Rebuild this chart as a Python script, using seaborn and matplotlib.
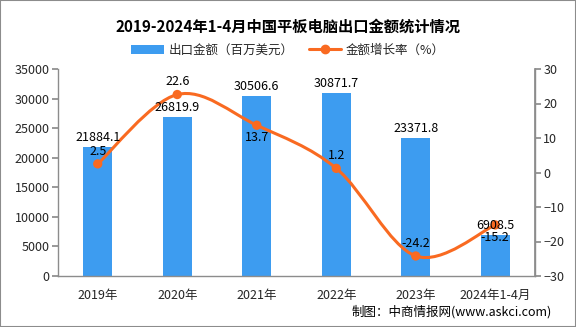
import numpy as np
import pandas as pd
import matplotlib
matplotlib.use("Agg")
import matplotlib.pyplot as plt
from matplotlib.path import Path
from matplotlib.patches import PathPatch, Patch, Rectangle
from matplotlib.lines import Line2D
import seaborn as sns

categories = ["2019年", "2020年", "2021年", "2022年", "2023年", "2024年1-4月"]
export_values = [21884.1, 26819.9, 30506.6, 30871.7, 23371.8, 6908.5]
growth_rates = [2.5, 22.6, 13.7, 1.2, -24.2, -15.2]
left_ticks = [0, 5000, 10000, 15000, 20000, 25000, 30000, 35000]
right_ticks = [-30, -20, -10, 0, 10, 20, 30]
growth_label_above = [True, True, False, True, True, False]

sns.set_theme(style="white")
plt.rcParams["font.family"] = ["Noto Sans CJK SC", "DejaVu Sans"]

BAR_C = "#3D9CF0"
LINE_C = "#F96A21"
AX_C = "#8C8C8C"

fig = plt.figure(figsize=(5.76, 3.27), dpi=100)
W, H = 576, 327
ax = fig.add_axes([58 / W, 1 - 276 / H, (535 - 58) / W, (276 - 69) / H])

df = pd.DataFrame({"cat": categories, "val": export_values})
sns.barplot(data=df, x="cat", y="val", color=BAR_C, width=0.37, ax=ax,
            saturation=1, edgecolor="none")
ax.set_xlim(-0.5, len(categories) - 0.5)
ax.set_ylim(0, 35000)
ax.set_yticks(left_ticks)
ax.set_yticklabels([str(t) for t in left_ticks], fontsize=9)
ax.set_xlabel("")
ax.set_ylabel("")
ax.set_xticks(np.arange(len(categories)))
ax.set_xticklabels(categories, fontsize=9)
ax.tick_params(axis="x", length=0, pad=9)
ax.set_xticks(np.arange(-0.5, len(categories), 1), minor=True)
ax.tick_params(axis="x", which="minor", length=5, color=AX_C, direction="out")
ax.tick_params(axis="y", length=4, color=AX_C, direction="out", pad=2, left=True)
ax.spines["top"].set_visible(False)
for s in ["left", "bottom", "right"]:
    ax.spines[s].set_color(AX_C)
    ax.spines[s].set_linewidth(1.0)
ax.grid(False)

ax2 = ax.twinx()
ax2.set_ylim(-30, 30)
ax2.set_yticks(right_ticks)
ax2.set_yticklabels([str(t).replace("-", "\u2212") for t in right_ticks], fontsize=9)
ax2.tick_params(axis="y", length=4, color=AX_C, direction="out", pad=2, right=True)
ax2.spines["top"].set_visible(False)
ax2.spines["left"].set_visible(False)
ax2.spines["bottom"].set_visible(False)
ax2.spines["right"].set_color(AX_C)
ax2.grid(False)

# smooth curve via Catmull-Rom -> cubic Bezier path
xs = np.arange(len(growth_rates), dtype=float)
ys = np.array(growth_rates, dtype=float)
pts = np.column_stack([xs, ys])
verts = [tuple(pts[0])]
codes = [Path.MOVETO]
n = len(pts)
for i in range(n - 1):
    p0 = pts[i - 1] if i > 0 else pts[i]
    p1 = pts[i]
    p2 = pts[i + 1]
    p3 = pts[i + 2] if i + 2 < n else pts[i + 1]
    c1 = p1 + (p2 - p0) / 6.0
    c2 = p2 - (p3 - p1) / 6.0
    verts += [tuple(c1), tuple(c2), tuple(p2)]
    codes += [Path.CURVE4, Path.CURVE4, Path.CURVE4]
ax2.add_patch(PathPatch(Path(verts, codes), facecolor="none", edgecolor=LINE_C, lw=2.2, zorder=3))
sns.scatterplot(x=xs, y=ys, color=LINE_C, s=45, edgecolor="none", ax=ax2, zorder=4)

# bar value labels drawn on top of the line (in ax's data coordinates)
for i, v in enumerate(export_values):
    ax2.text(i, v + 500, f"{v:.1f}", ha="center", va="bottom", fontsize=9,
             color="black", transform=ax.transData, zorder=6)

for i, g in enumerate(growth_rates):
    if growth_label_above[i]:
        ax2.text(i, g + 1.8, f"{g:.1f}", ha="center", va="bottom", fontsize=9, color="black", zorder=6)
    else:
        ax2.text(i, g - 1.8, f"{g:.1f}", ha="center", va="top", fontsize=9, color="black", zorder=6)

# title & legend
fig.text(0.5, 1 - 27 / H, "2019-2024年1-4月中国平板电脑出口金额统计情况",
         ha="center", va="center", fontsize=11, fontweight="bold", color="black")
handles = [Patch(facecolor=BAR_C, edgecolor="none", label="出口金额（百万美元）"),
           Line2D([0], [0], color=LINE_C, lw=2.2, marker="o", markersize=6, label="金额增长率（%）")]
fig.legend(handles=handles, loc="center", bbox_to_anchor=(0.5, 1 - 50 / H), ncol=2,
           frameon=False, fontsize=9, handlelength=2.6, handleheight=0.7,
           columnspacing=1.2, handletextpad=0.4)

fig.text(552 / W, 1 - 312 / H, "制图：中商情报网(www.askci.com)", ha="right", va="center",
         fontsize=9, color="black")

fig.patches.append(Rectangle((0, 0), 1, 1, transform=fig.transFigure, fill=False,
                             edgecolor=AX_C, lw=1.5))

fig.savefig("out.png", dpi=100)
